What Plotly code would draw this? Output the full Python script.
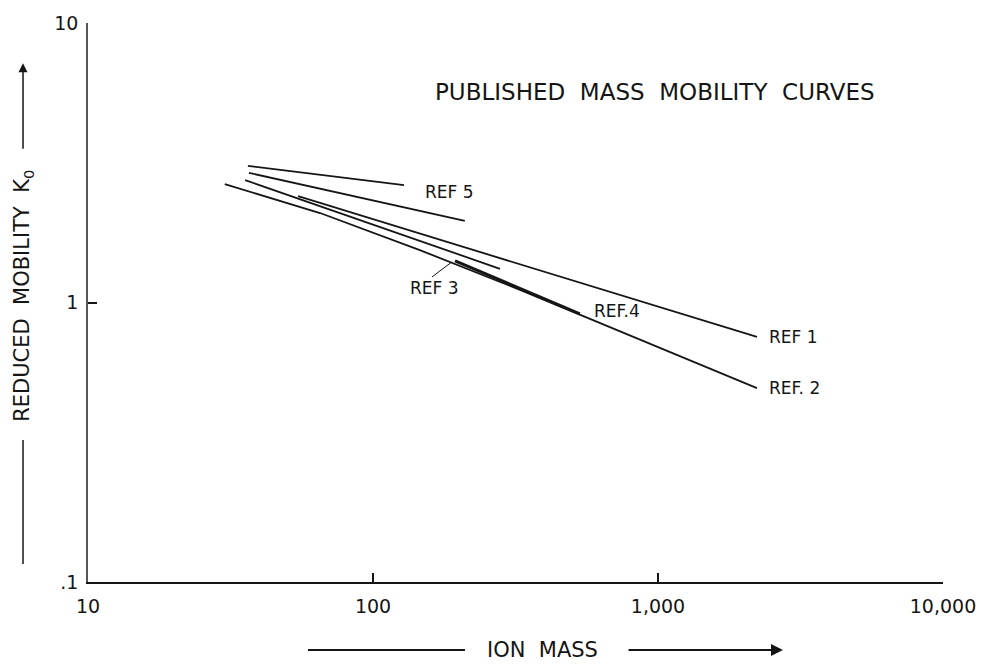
import math
import plotly.graph_objects as go

# ---- data (ion mass vs reduced mobility K0) ----
ref5a_mass = [36.4, 128.5]
ref5a_k0 = [3.08, 2.63]
ref5b_mass = [36.7, 210]
ref5b_k0 = [2.91, 1.96]
ref3_mass = [35.6, 279]
ref3_k0 = [2.74, 1.32]
ref2_mass = [30.2, 65.2, 146, 328, 2225]
ref2_k0 = [2.65, 2.09, 1.54, 1.11, 0.494]
ref1_mass = [54.6, 2225]
ref1_k0 = [2.40, 0.753]
ref4_mass = [194, 532]
ref4_k0 = [1.41, 0.910]
ref3_leader_mass = [161, 189]
ref3_leader_k0 = [1.234, 1.396]

x_tickvals = [10, 100, 1000, 10000]
x_ticktext = ["10", "100", "1,000", "10,000"]
y_tickvals = [0.1, 1, 10]
y_ticktext = [".1", "1", "10"]

FONT = "DejaVu Sans"
INK = "#151515"

fig = go.Figure()

def add_line(xs, ys, w=1.8):
    fig.add_trace(go.Scatter(x=xs, y=ys, mode="lines",
                             line=dict(color=INK, width=w), showlegend=False,
                             hoverinfo="skip"))

add_line(ref5a_mass, ref5a_k0)
add_line(ref5b_mass, ref5b_k0)
add_line(ref3_mass, ref3_k0)
add_line(ref2_mass, ref2_k0)
add_line(ref1_mass, ref1_k0)
add_line(ref4_mass, ref4_k0, w=3)
add_line(ref3_leader_mass, ref3_leader_k0, w=1)

def label(text, x, y, anchor="center", size=17):
    fig.add_annotation(x=math.log10(x), y=math.log10(y), xref="x", yref="y",
                       text=text, showarrow=False, xanchor=anchor, yanchor="middle",
                       font=dict(family=FONT, size=size, color=INK))

label("REF 5", 185, 2.49)
label("REF 3", 165, 1.127)
label("REF.4", 718, 0.932)
label("REF 1", 2413, 0.753, anchor="left")
label("REF. 2", 2413, 0.494, anchor="left")

# title
fig.add_annotation(x=0.663, y=0.8766, xref="paper", yref="paper",
                   xanchor="center", yanchor="middle",
                   text="PUBLISHED\u00a0 MASS\u00a0 MOBILITY\u00a0 CURVES", showarrow=False,
                   font=dict(family=FONT, size=23, color=INK))

# x axis title with arrow lines
XT_Y = -0.1216
fig.add_annotation(x=0.531, y=XT_Y, xref="paper", yref="paper",
                   xanchor="center", yanchor="middle",
                   text="ION\u00a0 MASS", showarrow=False,
                   font=dict(family=FONT, size=21, color=INK))
fig.add_shape(type="line", xref="paper", yref="paper", x0=0.2573, x1=0.4409,
              y0=XT_Y, y1=XT_Y, line=dict(color=INK, width=2))
fig.add_annotation(x=0.8129, y=XT_Y, ax=-156, ay=0, xref="paper", yref="paper",
                   axref="pixel", ayref="pixel", text="", showarrow=True,
                   arrowhead=2, arrowsize=1.2, arrowwidth=2, arrowcolor=INK)

# y axis title with arrow lines
fig.add_annotation(x=-0.076, y=0.512, xref="paper", yref="paper",
                   xanchor="center", yanchor="middle",
                   text="REDUCED\u00a0 MOBILITY\u00a0 K<sub>0</sub>", showarrow=False, textangle=-90,
                   font=dict(family=FONT, size=21, color=INK))
fig.add_shape(type="line", xref="paper", yref="paper", x0=-0.076, x1=-0.076,
              y0=0.032, y1=0.254, line=dict(color=INK, width=1.5))
fig.add_annotation(x=-0.076, y=0.928, ax=0, ay=87, xref="paper", yref="paper",
                   axref="pixel", ayref="pixel", text="", showarrow=True,
                   arrowhead=2, arrowsize=1.2, arrowwidth=1.5, arrowcolor=INK)

fig.update_xaxes(type="log", range=[1, 4], tickvals=x_tickvals, ticktext=x_ticktext,
                 ticks="inside", ticklen=9, tickwidth=1.5, tickcolor=INK,
                 showline=True, linecolor=INK, linewidth=2, showgrid=False, zeroline=False,
                 tickfont=dict(family=FONT, size=19, color=INK), ticklabelstandoff=6)
fig.update_yaxes(type="log", range=[-1, 1], tickvals=y_tickvals, ticktext=y_ticktext,
                 ticks="inside", ticklen=9, tickwidth=1.5, tickcolor=INK,
                 showline=True, linecolor="#555555", linewidth=1.5, showgrid=False, zeroline=False,
                 tickfont=dict(family=FONT, size=19, color=INK), ticklabelstandoff=4)

fig.update_layout(width=987, height=667, margin=dict(l=88, r=44, t=23, b=85),
                  paper_bgcolor="white", plot_bgcolor="white", hovermode=False,
                  showlegend=False)

fig.write_html("out.html")
